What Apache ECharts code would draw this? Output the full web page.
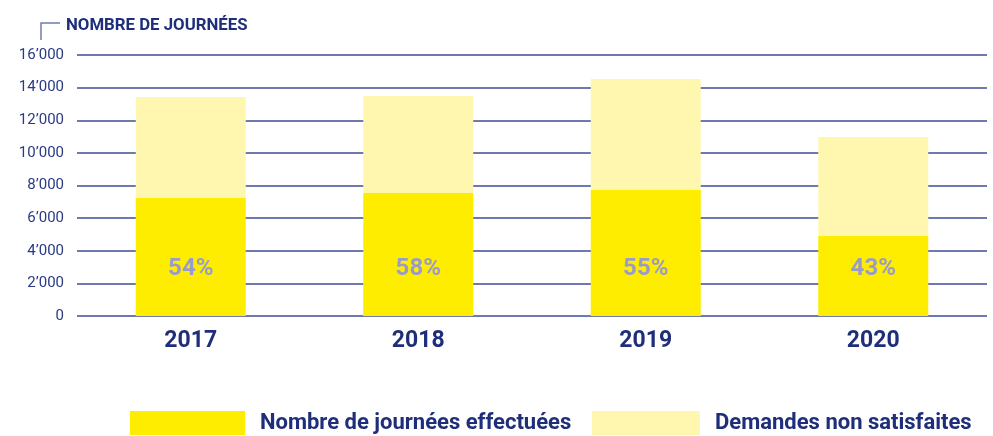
<!DOCTYPE html>
<html><head><meta charset="utf-8">
<script src="https://cdn.jsdelivr.net/npm/echarts@6/dist/echarts.min.js"></script>
<style>html,body{margin:0;padding:0;background:#fff}#c{width:993px;height:436px}</style>
</head><body><div id="c"></div>
<script>
const years = ['2017','2018','2019','2020'];
const effectuees = [7250, 7540, 7720, 4920];
const nonSatisfaites = [6175, 5950, 6810, 6050];
const pctLabels = ['54%','58%','55%','43%'];
const yTicks = [0,2000,4000,6000,8000,10000,12000,14000,16000];
const seriesNames = ['Nombre de journées effectuées','Demandes non satisfaites'];
const navy = '#1f2e7a';
const chart = echarts.init(document.getElementById('c'));
const fmt = v => v === 0 ? '0' : (Math.floor(v/1000)) + '\u2019' + String(v%1000).padStart(3,'0');
const legendText = {color:navy,fontSize:22,fontWeight:'bold',padding:[0,0,0,10]};
chart.setOption({
  animation:false,
  textStyle:{fontFamily:'Roboto'},
  grid:{left:77,right:6,top:55,bottom:120,containLabel:false},
  title:{text:'NOMBRE DE JOURNÉES',left:61,top:12,textStyle:{color:navy,fontSize:16.8,fontWeight:'bold',fontFamily:'Roboto'}},
  graphic:[{type:'polyline',shape:{points:[[60,23],[41,23],[41,40]]},style:{stroke:'#6f7bb3',lineWidth:1.5,fill:null}}],
  legend:[
    {left:130,top:411,padding:0,itemWidth:115,itemHeight:24,icon:'rect',textStyle:legendText,data:[seriesNames[0]]},
    {left:592,top:411,padding:0,itemWidth:108,itemHeight:24,icon:'rect',textStyle:legendText,data:[seriesNames[1]]}
  ],
  xAxis:{type:'category',data:years,axisLine:{show:false},axisTick:{show:false},
    axisLabel:{color:navy,fontSize:23,fontWeight:'bold',margin:14}},
  yAxis:{type:'value',min:yTicks[0],max:yTicks[yTicks.length-1],interval:2000,
    axisLine:{show:false},axisTick:{show:false},
    axisLabel:{color:'#2a3a85',fontSize:15,margin:13,formatter:fmt},
    splitLine:{lineStyle:{color:'#3e4d93',width:1.5}}},
  series:[
    {name:seriesNames[0],type:'bar',stack:'a',barWidth:110,data:effectuees,
     itemStyle:{color:'#FFED00'},
     label:{show:true,position:'insideBottom',distance:35,color:'#9a9cc8',fontSize:24,fontWeight:'bold',
       formatter:p=>pctLabels[p.dataIndex]}},
    {name:seriesNames[1],type:'bar',stack:'a',barWidth:110,data:nonSatisfaites,
     itemStyle:{color:'#FFF7B0'}}
  ]
});
</script></body></html>
